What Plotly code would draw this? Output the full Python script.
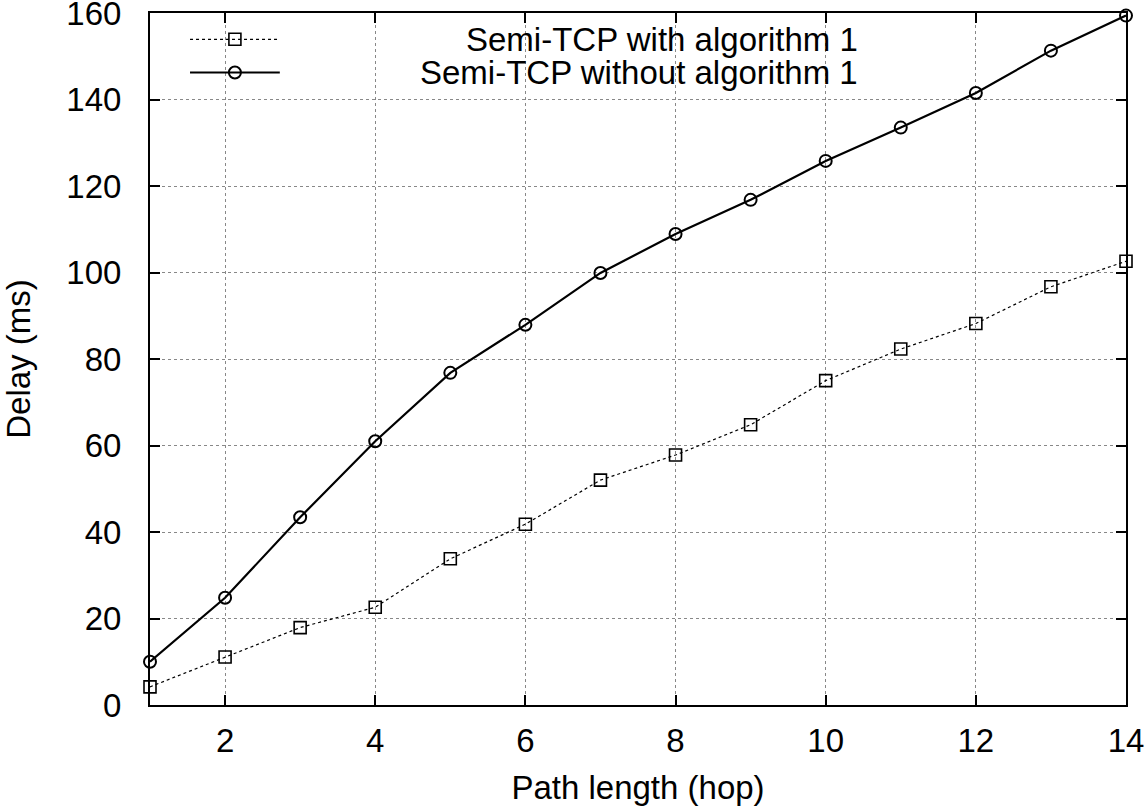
import plotly.graph_objects as go

# Path length (hops) and measured delays
hops = list(range(1, 15))
delay_with_alg = [4.2, 11.1, 17.9, 22.6, 33.8, 41.8, 52.0, 57.8, 64.8, 75.0, 82.3, 88.2, 96.7, 102.6]
delay_without_alg = [10.0, 24.8, 43.4, 61.0, 76.8, 87.9, 99.9, 108.9, 116.8, 125.8, 133.5, 141.5, 151.3, 159.4]

series_names = ['Semi-TCP with algorithm 1', 'Semi-TCP without algorithm 1']
x_ticks = [2, 4, 6, 8, 10, 12, 14]
y_ticks = [0, 20, 40, 60, 80, 100, 120, 140, 160]

FONT = 'Liberation Sans, Arial, Helvetica, sans-serif'
FS = 33

fig = go.Figure()

fig.add_trace(go.Scatter(
    x=hops, y=delay_with_alg, mode='lines+markers', name=series_names[0],
    line=dict(color='black', width=1.2, dash='dot'),
    marker=dict(symbol='square-open', size=12, color='black', line=dict(width=1.6)),
    cliponaxis=False, showlegend=False
))
fig.add_trace(go.Scatter(
    x=hops, y=delay_without_alg, mode='lines+markers', name=series_names[1],
    line=dict(color='black', width=2.2),
    marker=dict(symbol='circle-open', size=12, color='black', line=dict(width=2)),
    cliponaxis=False, showlegend=False
))

# hand-made legend (gnuplot style: sample on the left, text right-aligned)
legend_y = [0.962, 0.914]
legend_styles = [
    (dict(color='black', width=1.2, dash='dot'), dict(symbol='square-open', size=12, color='black', line=dict(width=1.6))),
    (dict(color='black', width=2.2), dict(symbol='circle-open', size=12, color='black', line=dict(width=2))),
]
for name, ly, (ln, mk) in zip(series_names, legend_y, legend_styles):
    fig.add_trace(go.Scatter(
        x=[0.041, 0.133], y=[ly, ly], mode='lines', line=ln,
        xaxis='x2', yaxis='y2', showlegend=False, hoverinfo='skip'
    ))
    fig.add_trace(go.Scatter(
        x=[0.087], y=[ly], mode='markers', marker=mk,
        xaxis='x2', yaxis='y2', showlegend=False, hoverinfo='skip'
    ))
    fig.add_annotation(
        x=0.727, y=ly, xref='paper', yref='paper', text=name, showarrow=False,
        xanchor='right', yanchor='middle', font=dict(family=FONT, size=FS, color='black')
    )

axis_common = dict(
    showline=True, linewidth=2, linecolor='black', mirror='ticks',
    ticks='inside', ticklen=10, tickwidth=1.5, tickcolor='black',
    showgrid=True, gridcolor='#888888', gridwidth=1, griddash='dot',
    zeroline=False, automargin=False, ticklabeloverflow='allow',
    tickfont=dict(family=FONT, size=FS, color='black'),
)

fig.update_layout(
    width=1148, height=807,
    margin=dict(l=150, r=22, t=13, b=102),
    paper_bgcolor='white', plot_bgcolor='white',
    font=dict(family=FONT, size=FS, color='black'),
    xaxis=dict(
        range=[1, 14], tickvals=x_ticks, ticklabelstandoff=5,
        title=dict(text='Path length (hop)', standoff=18, font=dict(family=FONT, size=FS)),
        **axis_common
    ),
    yaxis=dict(
        range=[0, 160], tickvals=y_ticks, ticklabelstandoff=20,
        title=dict(text='Delay (ms)', standoff=29, font=dict(family=FONT, size=FS)),
        **axis_common
    ),
    xaxis2=dict(overlaying='x', range=[0, 1], visible=False, fixedrange=True),
    yaxis2=dict(overlaying='y', range=[0, 1], visible=False, fixedrange=True),
    showlegend=False,
)

# drop the default 8px body margin so the figure sits at the page corner
fig.write_html(
    'out.html',
    config={'displayModeBar': False},
    post_script="document.body.style.margin='0';document.body.style.overflow='hidden';",
)
